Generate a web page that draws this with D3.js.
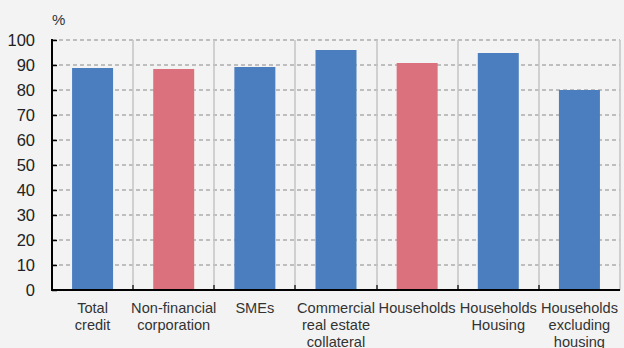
<!DOCTYPE html>
<html><head><meta charset="utf-8">
<script src="https://cdn.jsdelivr.net/npm/d3@7"></script>
<style>
html,body{margin:0;padding:0;background:#f2f3f2;}
svg{display:block;font-family:"Liberation Sans",Arial,Helvetica,sans-serif;}
</style></head>
<body><svg id="c" width="624" height="348"></svg>
<script>
const categories = [
  ["Total","credit"],
  ["Non-financial","corporation"],
  ["SMEs"],
  ["Commercial","real estate","collateral"],
  ["Households"],
  ["Households","Housing"],
  ["Households","excluding","housing"]
];
const values = [88.8, 88.4, 89.2, 96.0, 90.8, 94.8, 80.0];
const highlight = [false, true, false, false, true, false, false];
const yTicks = [0,10,20,30,40,50,60,70,80,90,100];
const unitLabel = "%";

const svg = d3.select("#c");
const W = 624, H = 348;
const m = {left: 52, right: 4, top: 40, bottom: 58};
const x = d3.scaleBand().domain(d3.range(categories.length)).range([m.left, W - m.right]).padding(0);
const y = d3.scaleLinear().domain([0, 100]).range([H - m.bottom, m.top]);

svg.append("rect").attr("width", W).attr("height", H).attr("fill", "#f2f3f2");

// horizontal dashed gridlines
svg.append("g").selectAll("line").data(yTicks.filter(d => d > 0)).join("line")
  .attr("x1", m.left).attr("x2", W - m.right)
  .attr("y1", d => y(d)).attr("y2", d => y(d))
  .attr("stroke", "#adadad").attr("stroke-width", 1.3).attr("stroke-dasharray", "4,3");

// vertical separators
svg.append("g").selectAll("line").data(d3.range(1, categories.length + 1)).join("line")
  .attr("x1", i => Math.round(m.left + i * x.step())).attr("x2", i => Math.round(m.left + i * x.step()))
  .attr("y1", y(100)).attr("y2", y(0))
  .attr("stroke", "#c4c4c4").attr("stroke-width", 1.5);

// bars
const bw = x.bandwidth() * 0.505;
svg.append("g").selectAll("rect").data(values).join("rect")
  .attr("x", (d, i) => x(i) + x.bandwidth() / 2 - bw / 2)
  .attr("width", bw)
  .attr("y", d => y(d))
  .attr("height", d => y(0) - y(d))
  .attr("fill", (d, i) => highlight[i] ? "#dc717e" : "#4a7ebf");

// y axis
const ya = svg.append("g").attr("transform", `translate(${m.left},0)`)
  .call(d3.axisLeft(y).tickValues(yTicks).tickSize(-5).tickPadding(17).tickFormat(d3.format("d")));
ya.select(".domain").remove();
ya.selectAll(".tick line").attr("stroke", "#000").attr("stroke-width", 1.5);
ya.selectAll(".tick text").attr("font-size", "16.5px").attr("fill", "#222")
  .attr("font-family", "Liberation Sans, Arial, sans-serif");
svg.append("line").attr("x1", m.left).attr("x2", m.left).attr("y1", y(100) - 1).attr("y2", y(0) + 1)
  .attr("stroke", "#000").attr("stroke-width", 2);

// x axis baseline and ticks
svg.append("line").attr("x1", m.left - 1).attr("x2", W - m.right).attr("y1", y(0)).attr("y2", y(0))
  .attr("stroke", "#000").attr("stroke-width", 2);
svg.append("g").selectAll("line").data(d3.range(1, categories.length)).join("line")
  .attr("x1", i => Math.round(m.left + i * x.step())).attr("x2", i => Math.round(m.left + i * x.step()))
  .attr("y1", y(0)).attr("y2", y(0) - 5)
  .attr("stroke", "#000").attr("stroke-width", 1.2);

// category labels
const lab = svg.append("g").selectAll("text").data(categories).join("text")
  .attr("text-anchor", "middle").attr("font-size", "14.6px").attr("fill", "#333")
  .attr("x", (d, i) => x(i) + x.bandwidth() / 2)
  .attr("y", 313);
lab.selectAll("tspan").data(d => d).join("tspan")
  .attr("x", function() { return d3.select(this.parentNode).attr("x"); })
  .attr("dy", (d, j) => j === 0 ? 0 : 17)
  .text(d => d);

// unit label
svg.append("text").attr("x", m.left).attr("y", 25).attr("font-size", "15px").attr("fill", "#333").text(unitLabel);
</script></body></html>
